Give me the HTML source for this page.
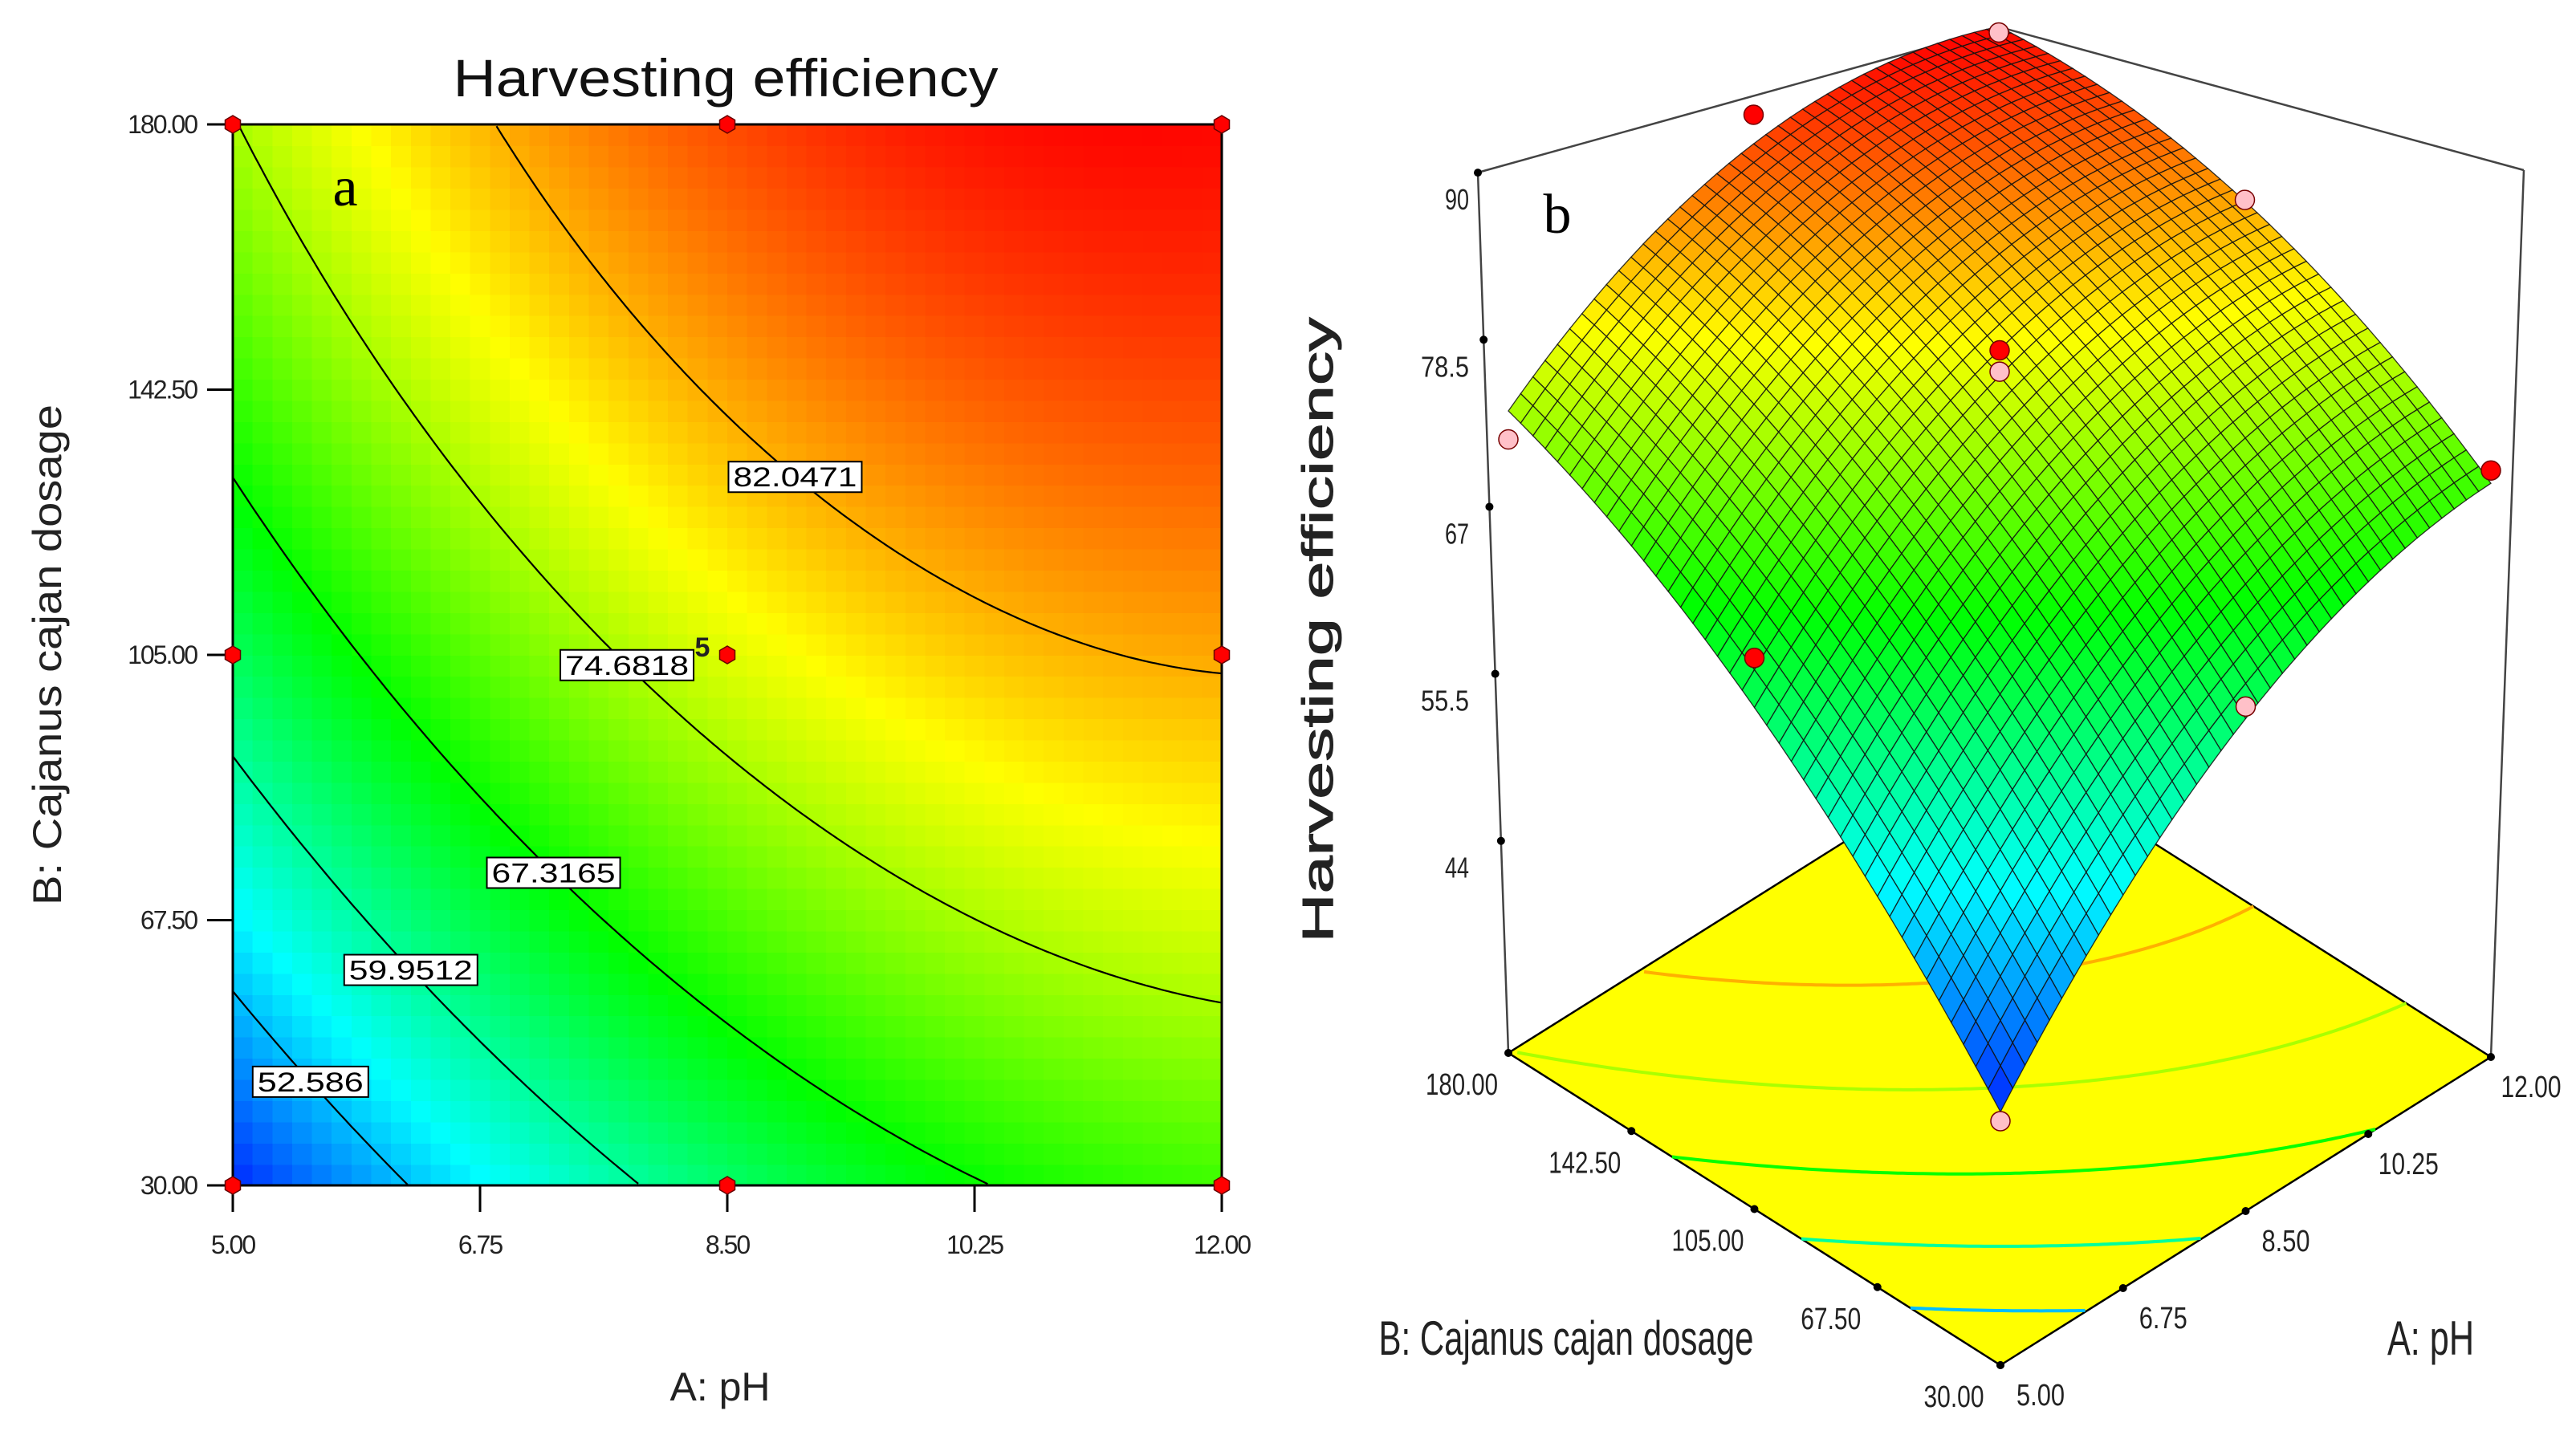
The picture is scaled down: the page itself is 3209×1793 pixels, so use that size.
<!DOCTYPE html>
<html><head><meta charset="utf-8">
<style>
html,body{margin:0;padding:0;background:#fff;}
svg{display:block;}
text{font-family:"Liberation Sans",sans-serif;}
</style></head>
<body>
<svg id="fig" width="3209" height="1793" viewBox="0 0 3209 1793" xmlns="http://www.w3.org/2000/svg">
  <rect width="3209" height="1793" fill="#fff"/>
  <g id="panelA"></g>
  <g id="panelB"></g>
</svg>
<script>
// ---- data ----
const phTicks = [5.00, 6.75, 8.50, 10.25, 12.00];
const phTickLabels = ["5.00", "6.75", "8.50", "10.25", "12.00"];
const doseTicks = [30, 67.5, 105, 142.5, 180];
const doseTickLabels = ["30.00", "67.50", "105.00", "142.50", "180.00"];
const modelIntercept = 77.1;
const modelLinear = [9.8, 12.2];         // A, B (coded)
const modelInteraction = -2.2;           // AB
const modelQuadratic = [-4.5, -2.7];     // A^2, B^2
const contourLevels = [52.586, 59.9512, 67.3165, 74.6818, 82.0471];
const contourLabels = ["52.586", "59.9512", "67.3165", "74.6818", "82.0471"];
const contourLabelPH = [5.55, 6.26, 7.27, 7.79, 8.98];
const designPH = [5, 8.5, 12, 5, 8.5, 12, 5, 8.5, 12];
const designDose = [30, 30, 30, 105, 105, 105, 180, 180, 180];
const obsA = [1, 0, 1, 0, 0, -1, 1, -1, 0, -1];
const obsB = [1, 1, 0, 0, 0, 1, -1, 0, -1, -1];
const obsValue = [89.2, 88.8, 82.5, 78.9, 77.4, 72.5, 70.6, 66.1, 63.0, 45.1];
const obsAbove = [false, true, false, true, false, false, true, true, false, false];
const zTicks = [44, 55.5, 67, 78.5, 90];
const zTickLabels = ["44", "55.5", "67", "78.5", "90"];
const colorMin = 44, colorMax = 90;

const NS = "http://www.w3.org/2000/svg";
function el(tag, attrs, parent) {
  const e = document.createElementNS(NS, tag);
  for (const k in attrs) e.setAttribute(k, attrs[k]);
  parent.appendChild(e);
  return e;
}
function model(a, b) {
  return modelIntercept + modelLinear[0]*a + modelLinear[1]*b + modelInteraction*a*b + modelQuadratic[0]*a*a + modelQuadratic[1]*b*b;
}
function codeA(ph) { return (ph - 8.5) / 3.5; }
function codeB(d) { return (d - 105) / 75; }
function cmap(v) {
  let t = (v - colorMin) / (colorMax - colorMin);
  t = Math.max(0, Math.min(1, t));
  const stops = [[0,0,255],[0,255,255],[0,255,0],[255,255,0],[255,0,0]];
  const p = t * 4, i = Math.min(3, Math.floor(p)), f = p - i;
  const c = stops[i].map((s, k) => Math.round(s + (stops[i+1][k] - s) * f));
  return "rgb(" + c.join(",") + ")";
}
function solveB(a, L) {
  const qa = modelQuadratic[1], qb = modelLinear[1] + modelInteraction*a;
  const qc = modelIntercept + modelLinear[0]*a + modelQuadratic[0]*a*a - L;
  const disc = qb*qb - 4*qa*qc;
  if (disc < 0) return null;
  const r1 = (-qb + Math.sqrt(disc)) / (2*qa), r2 = (-qb - Math.sqrt(disc)) / (2*qa);
  const roots = [r1, r2].filter(r => r >= -1 && r <= 1);
  if (!roots.length) return null;
  return roots.reduce((m, r) => Math.abs(r) < Math.abs(m) ? r : m);
}

// ================= Panel A: contour plot =================
const pA = document.getElementById("panelA");
const X0 = 290, X1 = 1522, Y0 = 155, Y1 = 1477;
const xs = ph => X0 + (ph - 5) / 7 * (X1 - X0);
const ys = d => Y1 - (d - 30) / 150 * (Y1 - Y0);

const heat = el("g", {"shape-rendering": "crispEdges"}, pA);


const N = 50;
for (let i = 0; i < N; i++) {
  for (let j = 0; j < N; j++) {
    const ph = 5 + (i + 0.5) / N * 7, d = 30 + (j + 0.5) / N * 150;
    const cx0 = X0 + i / N * (X1 - X0), cy0 = Y1 - (j + 1) / N * (Y1 - Y0);
    const r = el("rect", {x: cx0.toFixed(1), y: cy0.toFixed(1), width: ((X1-X0)/N + 0.8).toFixed(1), height: ((Y1-Y0)/N + 0.8).toFixed(1), fill: cmap(model(codeA(ph), codeB(d)))}, heat);
    
    
  }
}
contourLevels.forEach((L, li) => {
  let dstr = "", pen = false;
  for (let k = 0; k <= 300; k++) {
    const ph = 5 + k / 300 * 7;
    const b = solveB(codeA(ph), L);
    if (b === null) { pen = false; continue; }
    const d = 105 + b * 75;
    dstr += (pen ? "L" : "M") + xs(ph).toFixed(1) + " " + ys(d).toFixed(1);
    pen = true;
  }
  const path = el("path", {d: dstr, fill: "none", stroke: "#000", "stroke-width": 2.2}, pA);
  
  
});
const frame = el("rect", {x: X0, y: Y0, width: X1 - X0, height: Y1 - Y0, fill: "none", stroke: "#000", "stroke-width": 3}, pA);


contourLevels.forEach((L, li) => {
  const ph = contourLabelPH[li];
  const b = solveB(codeA(ph), L);
  const cx = xs(ph), cy = ys(105 + (b === null ? 0 : b) * 75);
  const w = contourLabels[li].length * 22 + 12;
  const g = el("g", {}, pA);
  
  
  el("rect", {x: cx - w/2, y: cy - 19, width: w, height: 38, fill: "#fff", stroke: "#000", "stroke-width": 2}, g);
  const t = el("text", {x: cx, y: cy + 12, "text-anchor": "middle", "font-size": 34, fill: "#000", textLength: w - 12, lengthAdjust: "spacingAndGlyphs"}, g);
  t.textContent = contourLabels[li];
});
phTicks.forEach((v, i) => {
  const x = xs(v);
  const tk = el("line", {x1: x, y1: Y1, x2: x, y2: Y1 + 33, stroke: "#000", "stroke-width": 3}, pA);
  
  
  const t = el("text", {x: x, y: Y1 + 85, "text-anchor": "middle", "font-size": 32, fill: "#222", "letter-spacing": -2}, pA);
  
  
  t.textContent = phTickLabels[i];
});
doseTicks.forEach((v, i) => {
  const y = ys(v);
  const tk = el("line", {x1: X0 - 32, y1: y, x2: X0, y2: y, stroke: "#000", "stroke-width": 3}, pA);
  
  
  const t = el("text", {x: 245, y: y + 11, "text-anchor": "end", "font-size": 32, fill: "#222", "letter-spacing": -2}, pA);
  
  
  t.textContent = doseTickLabels[i];
});
designPH.forEach((ph, i) => {
  const x = xs(ph), y = ys(designDose[i]), r = 11;
  let pts = "";
  for (let k = 0; k < 6; k++) { const an = Math.PI/6 + k*Math.PI/3; pts += (x + r*Math.cos(an)).toFixed(1) + "," + (y + r*Math.sin(an)).toFixed(1) + " "; }
  const p = el("polygon", {points: pts, fill: "#ff0000", stroke: "#600", "stroke-width": 1.5}, pA);
  
  
});
{
  const t = el("text", {x: 875, y: 818, "text-anchor": "middle", "font-size": 34, "font-weight": "bold", fill: "#222"}, pA);
  
  
  t.textContent = "5";
}
{
  let t = el("text", {x: 904, y: 120, "text-anchor": "middle", "font-size": 66, fill: "#111", textLength: 679, lengthAdjust: "spacingAndGlyphs"}, pA);
  
  
  t.textContent = "Harvesting efficiency";
  t = el("text", {x: 897, y: 1745, "text-anchor": "middle", "font-size": 50, fill: "#222"}, pA);
  
  
  t.textContent = "A: pH";
  t = el("text", {x: 0, y: 0, "text-anchor": "middle", "font-size": 50, fill: "#222", transform: "translate(76,816) rotate(-90)", textLength: 624, lengthAdjust: "spacingAndGlyphs"}, pA);
  
  
  t.textContent = "B: Cajanus cajan dosage";
  t = el("text", {x: 430, y: 256, "text-anchor": "middle", "font-size": 70, fill: "#000", style: "font-family:'Liberation Serif',serif"}, pA);
  
  
  t.textContent = "a";
}

// ================= Panel B: 3D surface =================
const pB = document.getElementById("panelB");
const zBase = 29.4, zScale = 18.1;
function proj(u, v, z) {
  const bx = 2492 + 611*u - 613*v, by = 1701 - 384*u - 389*v;
  const d = u + v, s = 1.07 - 0.055*d - 0.035*d*d;
  return [bx, by - (z - zBase) * zScale * s];
}
{
  const fr = el("path", {d: "M1841 215 L2492 34 L3144 212 M1841 215 L1879 1312 M3144 212 L3103 1317", fill: "none", stroke: "#444", "stroke-width": 2.5}, pB);
  
  
}
{
  const c = [[0,0],[1,0],[1,1],[0,1]].map(p => proj(p[0], p[1], zBase));
  const base = el("polygon", {points: c.map(p => p[0].toFixed(1) + "," + p[1].toFixed(1)).join(" "), fill: "#ffff00", stroke: "#000", "stroke-width": 2.5}, pB);
  
  
}
contourLevels.forEach((L, li) => {
  let dstr = "", pen = false;
  for (let k = 0; k <= 200; k++) {
    const a = -1 + k / 100;
    const b = solveB(a, L);
    if (b === null) { pen = false; continue; }
    const p = proj((a + 1) / 2, (b + 1) / 2, zBase);
    dstr += (pen ? "L" : "M") + p[0].toFixed(1) + " " + p[1].toFixed(1);
    pen = true;
  }
  const path = el("path", {d: dstr, fill: "none", stroke: cmap(L), "stroke-width": 4}, pB);
  
  
});
{
  const M = 40, quads = [];
  for (let i = 0; i < M; i++) for (let j = 0; j < M; j++) quads.push([i, j]);
  quads.sort((p, q) => (q[0] + q[1]) - (p[0] + p[1]));
  const g = el("g", {}, pB);
  
  
  quads.forEach(([i, j]) => {
    const corners = [[i, j], [i+1, j], [i+1, j+1], [i, j+1]];
    let pts = "";
    corners.forEach(([ci, cj]) => {
      const u = ci / M, v = cj / M;
      const p = proj(u, v, model(2*u - 1, 2*v - 1));
      pts += p[0].toFixed(1) + "," + p[1].toFixed(1) + " ";
    });
    const uc = (i + 0.5) / M, vc = (j + 0.5) / M;
    const q = el("polygon", {points: pts, fill: cmap(model(2*uc - 1, 2*vc - 1)), stroke: "#111", "stroke-width": 1.3, "stroke-opacity": 0.85}, g);
    
    
  });
}
obsValue.forEach((z, i) => {
  const p = proj((obsA[i] + 1) / 2, (obsB[i] + 1) / 2, z);
  const c = el("circle", {cx: p[0], cy: p[1], r: 12, fill: obsAbove[i] ? "#ff0000" : "#ffc0c8", stroke: "#700", "stroke-width": 1.5}, pB);
  
  
});
zTicks.forEach((z, i) => {
  const y = 1312 - (z - zBase) * zScale;
  const x = 1879 - (1312 - y) * (38 / 1097);
  const dot = el("circle", {cx: x, cy: y, r: 5, fill: "#000"}, pB);
  
  
  const t = el("text", {x: 1830, y: y + 46, "text-anchor": "end", "font-size": 36, fill: "#222", textLength: zTickLabels[i].length * 15, lengthAdjust: "spacingAndGlyphs"}, pB);
  
  
  t.textContent = zTickLabels[i];
});
doseTicks.forEach((d, i) => {
  const v = (d - 30) / 150;
  const p = proj(0, v, zBase);
  const dot = el("circle", {cx: p[0], cy: p[1], r: 5, fill: "#000"}, pB);
  
  
  const t = el("text", {x: p[0] - 58, y: p[1] + 52, "text-anchor": "middle", "font-size": 38, fill: "#222", textLength: doseTickLabels[i].length * 15, lengthAdjust: "spacingAndGlyphs"}, pB);
  
  
  t.textContent = doseTickLabels[i];
});
phTicks.forEach((ph, i) => {
  const u = (ph - 5) / 7;
  const p = proj(u, 0, zBase);
  const dot = el("circle", {cx: p[0], cy: p[1], r: 5, fill: "#000"}, pB);
  
  
  const t = el("text", {x: p[0] + 50, y: p[1] + 50, "text-anchor": "middle", "font-size": 38, fill: "#222", textLength: phTickLabels[i].length * 15, lengthAdjust: "spacingAndGlyphs"}, pB);
  
  
  t.textContent = phTickLabels[i];
});
{
  let t = el("text", {x: 1951, y: 1688, "text-anchor": "middle", "font-size": 60, fill: "#222", textLength: 467, lengthAdjust: "spacingAndGlyphs"}, pB);
  
  
  t.textContent = "B: Cajanus cajan dosage";
  t = el("text", {x: 3028, y: 1688, "text-anchor": "middle", "font-size": 60, fill: "#222", textLength: 108, lengthAdjust: "spacingAndGlyphs"}, pB);
  
  
  t.textContent = "A: pH";
  t = el("text", {x: 0, y: 0, "text-anchor": "middle", "font-size": 54, fill: "#222", stroke: "#222", "stroke-width": 1, transform: "translate(1660,785) rotate(-90)", textLength: 779, lengthAdjust: "spacingAndGlyphs"}, pB);
  
  
  t.textContent = "Harvesting efficiency";
  t = el("text", {x: 1940, y: 290, "text-anchor": "middle", "font-size": 70, fill: "#000", style: "font-family:'Liberation Serif',serif"}, pB);
  
  
  t.textContent = "b";
}
</script>
</body></html>
